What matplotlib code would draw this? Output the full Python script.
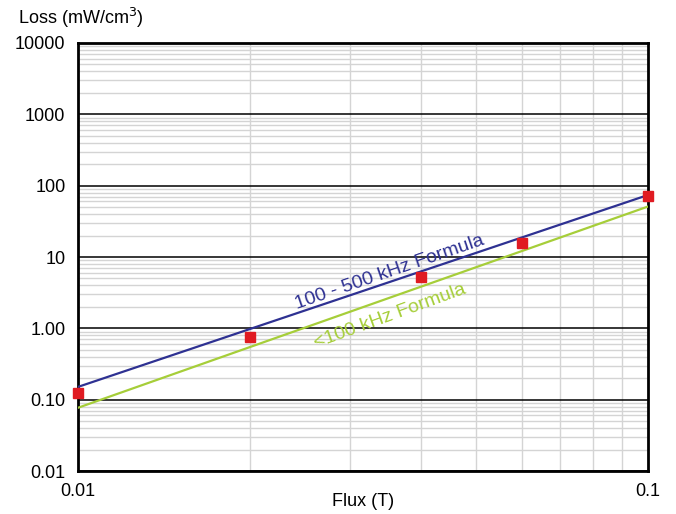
import matplotlib.pyplot as plt
from matplotlib.ticker import LogLocator, NullFormatter, FixedLocator

plt.rcParams['font.family'] = ['Liberation Sans', 'DejaVu Sans']

# measured core loss points
flux_pts = [0.01, 0.02, 0.04, 0.06, 0.1]
loss_pts = [0.124, 0.76, 5.2, 15.6, 71]

# formula curves (straight lines on log-log axes)
flux_line = [0.01, 0.1]
loss_hi = [0.151, 74]   # 100 - 500 kHz
loss_lo = [0.077, 51]   # <100 kHz

y_ticks = [0.01, 0.1, 1, 10, 100, 1000, 10000]
y_labels = ["0.01", "0.10", "1.00", "10", "100", "1000", "10000"]
x_ticks = [0.01, 0.1]
x_labels = ["0.01", "0.1"]

fig = plt.figure(figsize=(6.76, 5.14), dpi=100)
ax = fig.add_axes([78 / 676, 43 / 514, 570 / 676, 428 / 514])

ax.set_xscale('log')
ax.set_yscale('log')
ax.set_xlim(0.01, 0.1)
ax.set_ylim(0.01, 10000)

ax.plot(flux_line, loss_hi, color='#2e3192', lw=1.6, zorder=3)
ax.plot(flux_line, loss_lo, color='#a6ce39', lw=1.6, zorder=3)
ax.plot(flux_pts, loss_pts, 's', color='#e01b22', ms=6.5, zorder=4,
        clip_on=False)

ax.text(0.0352, 6.1, "100 - 500 kHz Formula", color='#2e3192',
        fontsize=14, rotation=19, ha='center', va='center')
ax.text(0.0352, 1.47, "<100 kHz Formula", color='#a6ce39',
        fontsize=14, rotation=20, ha='center', va='center')

# grid: black decades, grey sub-divisions
ax.yaxis.set_major_locator(FixedLocator(y_ticks))
ax.set_yticklabels(y_labels)
ax.yaxis.set_minor_locator(LogLocator(base=10, subs=range(2, 10)))
ax.yaxis.set_minor_formatter(NullFormatter())
ax.xaxis.set_major_locator(FixedLocator(x_ticks))
ax.set_xticklabels(x_labels)
ax.xaxis.set_minor_locator(LogLocator(base=10, subs=range(2, 10)))
ax.xaxis.set_minor_formatter(NullFormatter())

ax.grid(True, which='major', axis='y', color='black', lw=1.1)
ax.grid(True, which='minor', axis='both', color='#d4d4d4', lw=1.0)
ax.set_axisbelow(True)

ax.tick_params(which='both', length=0, labelsize=13, colors='black')
ax.tick_params(axis='y', pad=9)
ax.tick_params(axis='x', pad=9)
for sp in ax.spines.values():
    sp.set_linewidth(2)
    sp.set_color('black')

fig.text(18 / 676, 1 - 18 / 514, "Loss (mW/cm$^3$)", fontsize=13,
         ha='left', va='center')
fig.text(363 / 676, 1 - 502 / 514, "Flux (T)", fontsize=13,
         ha='center', va='center')

fig.savefig("out.png", dpi=100)
